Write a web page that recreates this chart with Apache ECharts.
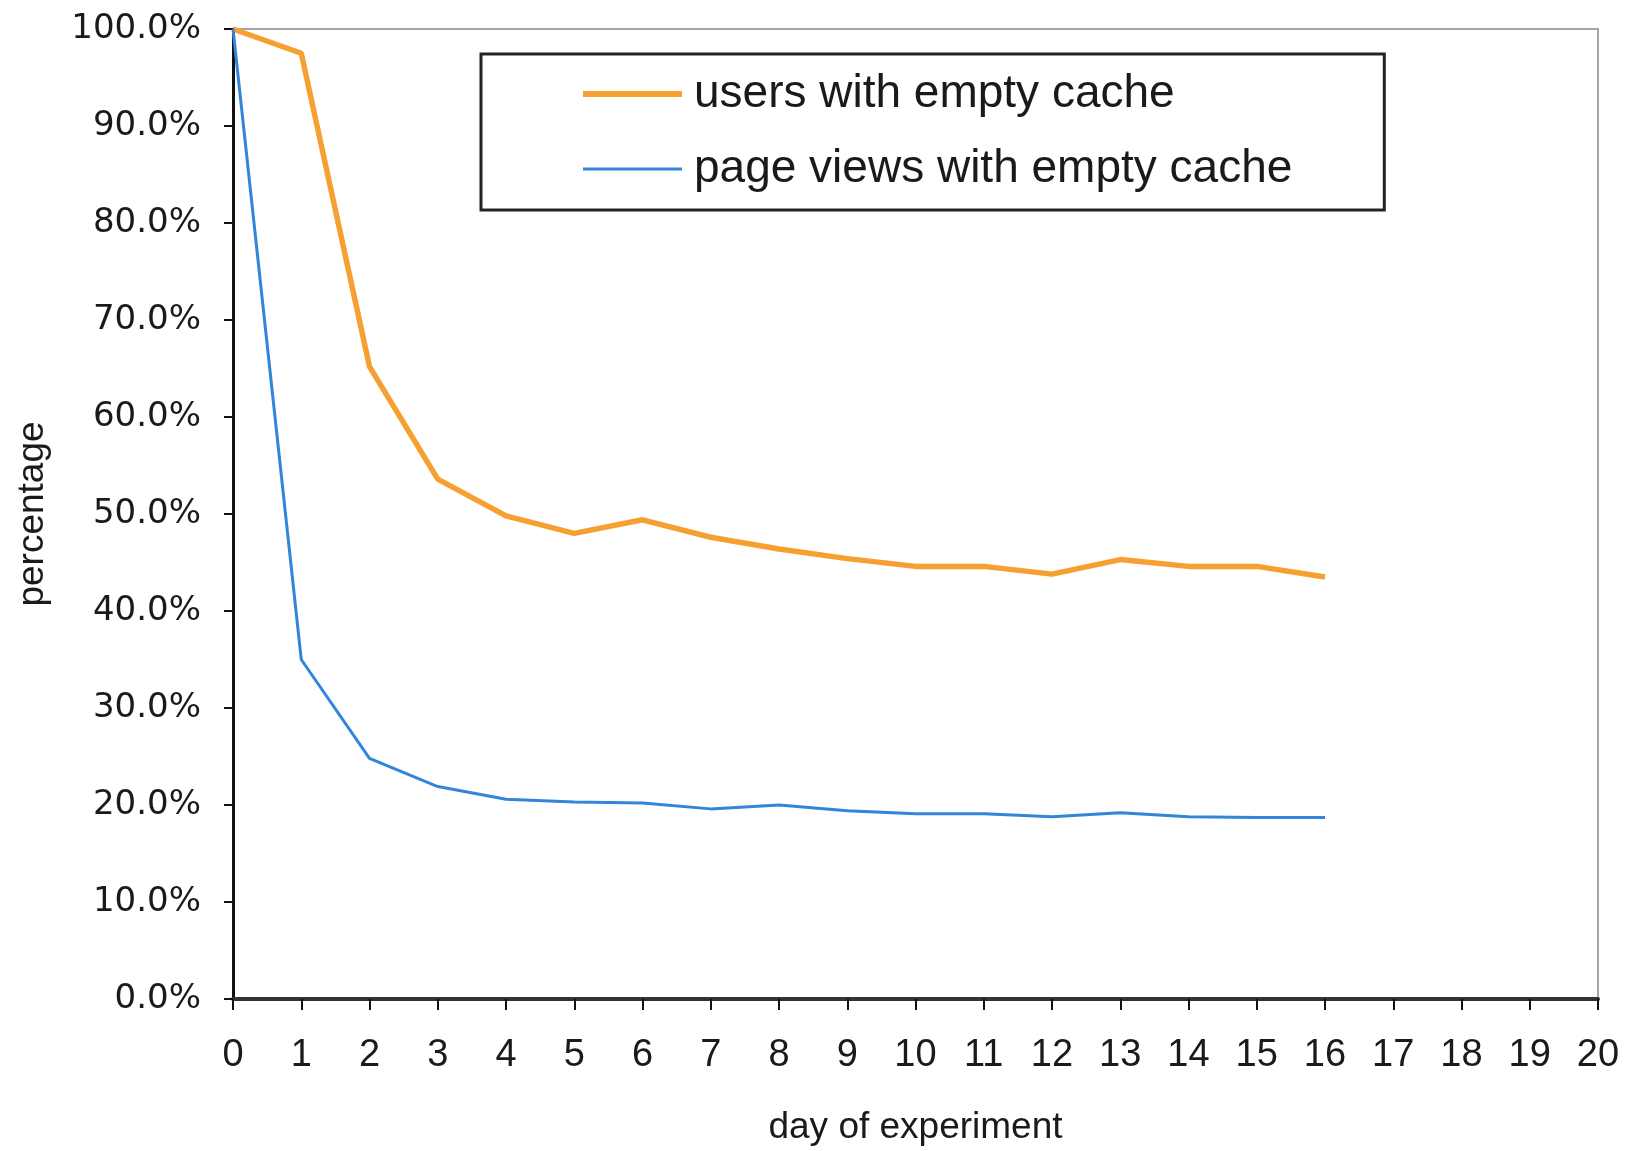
<!DOCTYPE html>
<html>
<head>
<meta charset="utf-8">
<script src="https://cdn.jsdelivr.net/npm/echarts@6/dist/echarts.min.js"></script>
<style>
  html, body { margin: 0; padding: 0; background: #ffffff; }
  #chart { width: 1632px; height: 1151px; }
</style>
</head>
<body>
<div id="chart"></div>
<script>
// ---- data ----
var days = [0, 1, 2, 3, 4, 5, 6, 7, 8, 9, 10, 11, 12, 13, 14, 15, 16];
var usersEmptyCache = [100, 97.5, 65.2, 53.6, 49.8, 48.0, 49.4, 47.6, 46.4, 45.4, 44.6, 44.6, 43.8, 45.3, 44.6, 44.6, 43.5];
var pageViewsEmptyCache = [100, 35.0, 24.8, 21.9, 20.6, 20.3, 20.2, 19.6, 20.0, 19.4, 19.1, 19.1, 18.8, 19.2, 18.8, 18.7, 18.7];
var seriesNames = ['users with empty cache', 'page views with empty cache'];
var xAxisTitle = 'day of experiment';
var yAxisTitle = 'percentage';

function pairs(xs, ys) {
  return xs.map(function (x, i) { return [x, ys[i]]; });
}

var chart = echarts.init(document.getElementById('chart'), null, { renderer: 'canvas' });

var orange = '#F5A030';
var blue = '#3385DA';

chart.setOption({
  backgroundColor: '#ffffff',
  animation: false,
  grid: {
    left: 233, right: 34, top: 29, bottom: 150,
    show: true,
    borderColor: '#a6a6a6',
    borderWidth: 2,
    backgroundColor: 'transparent'
  },
  legend: {
    orient: 'vertical',
    left: 481,
    top: 54,
    padding: [15, 92, 16, 102],
    borderColor: '#222222',
    borderWidth: 3,
    backgroundColor: '#ffffff',
    itemWidth: 99,
    itemHeight: 14,
    itemGap: 25,
    textStyle: {
      fontFamily: 'Liberation Sans, Arial, sans-serif',
      fontSize: 46,
      lineHeight: 50,
      color: '#1a1a1a',
      padding: [0, 0, 0, 7]
    },
    data: [
      { name: seriesNames[0], icon: 'path://M0,0L0,0M0,4H100V10H0ZM0,14L0,14', itemStyle: { color: orange } },
      { name: seriesNames[1], icon: 'path://M0,0L0,0M0,5.5H100V8.5H0ZM0,14L0,14', itemStyle: { color: blue } }
    ]
  },
  xAxis: {
    type: 'value',
    min: 0, max: 20, interval: 1,
    name: xAxisTitle,
    nameLocation: 'middle',
    nameGap: 110,
    nameTextStyle: { fontFamily: 'Liberation Sans, Arial, sans-serif', fontSize: 37, color: '#1a1a1a' },
    axisLine: { show: true, onZero: false, lineStyle: { color: '#333333', width: 4 } },
    axisTick: { show: true, inside: false, length: 11, lineStyle: { color: '#111111', width: 2 } },
    axisLabel: {
      margin: 38,
      fontFamily: 'Liberation Sans, Arial, sans-serif',
      fontSize: 38,
      color: '#1a1a1a'
    },
    splitLine: { show: false }
  },
  yAxis: {
    type: 'value',
    min: 0, max: 100, interval: 10,
    name: yAxisTitle,
    nameLocation: 'middle',
    nameRotate: 90,
    nameGap: 182,
    nameTextStyle: { fontFamily: 'Liberation Sans, Arial, sans-serif', fontSize: 37, color: '#1a1a1a' },
    axisLine: { show: true, lineStyle: { color: '#111111', width: 3 } },
    axisTick: { show: true, inside: false, length: 9, lineStyle: { color: '#111111', width: 2 } },
    axisLabel: {
      margin: 32,
      fontFamily: 'DejaVu Sans, sans-serif',
      fontSize: 34,
      color: '#1a1a1a',
      formatter: function (v) { return v.toFixed(1) + '%'; }
    },
    splitLine: { show: false }
  },
  series: [
    {
      name: seriesNames[0],
      type: 'line',
      data: pairs(days, usersEmptyCache),
      showSymbol: false,
      symbol: 'none',
      color: orange,
      lineStyle: { color: orange, width: 5.5 },
      z: 3
    },
    {
      name: seriesNames[1],
      type: 'line',
      data: pairs(days, pageViewsEmptyCache),
      showSymbol: false,
      symbol: 'none',
      color: blue,
      lineStyle: { color: blue, width: 3 },
      z: 4
    }
  ]
});
</script>
</body>
</html>
